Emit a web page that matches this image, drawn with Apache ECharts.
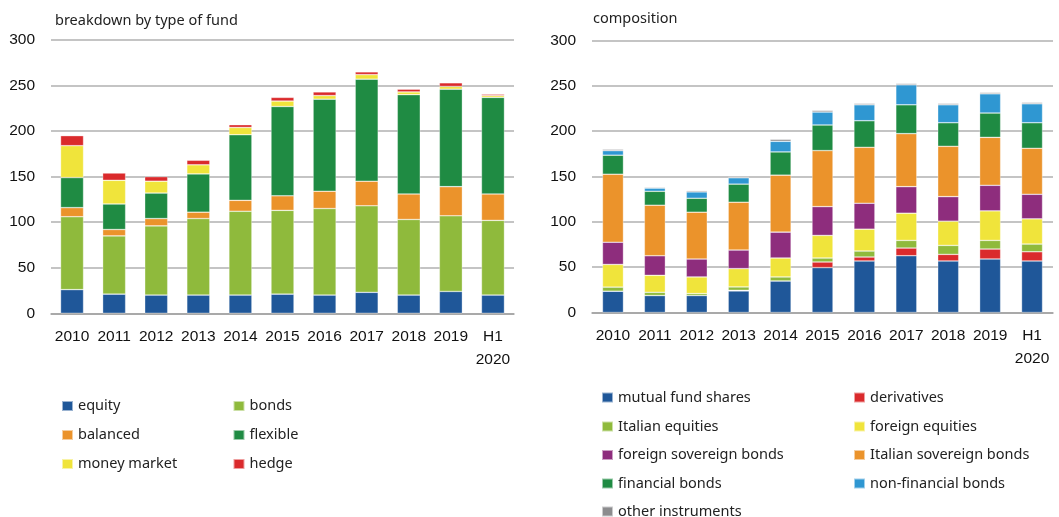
<!DOCTYPE html>
<html>
<head>
<meta charset="utf-8">
<script src="https://cdn.jsdelivr.net/npm/echarts@6/dist/echarts.min.js"></script>
<style>html,body{margin:0;padding:0;background:#fff}#c{width:1059px;height:517px}</style>
</head>
<body>
<div id="c"></div>
<script>
const categories = ['2010','2011','2012','2013','2014','2015','2016','2017','2018','2019','H1\n2020'];
const yTicks = [0, 50, 100, 150, 200, 250, 300];

// left panel: breakdown by type of fund
const equity      = [26, 21, 20, 20, 20, 21, 20, 23, 20, 24, 20];
const bonds       = [80, 64, 76, 84, 92, 92, 95, 95, 83, 83, 82];
const balanced    = [10, 7, 8, 7, 12, 16, 19, 27, 28, 32, 29];
const flexible    = [33, 28, 28, 42, 72, 98, 101, 112, 109, 107, 106];
const moneyMarket = [35, 26, 13, 10, 8, 6, 4, 5, 3, 3, 2];
const hedge       = [11, 8, 5, 5, 3, 4, 4, 3, 3, 4, 1.5];

// right panel: composition
const mutualFundShares   = [23.5, 18.7, 18.7, 23.8, 34.8, 49.5, 56.8, 62.6, 56.8, 59, 56.8];
const derivatives        = [0, 0, -0.8, 0.7, 0, 6.2, 4.4, 8.5, 7.3, 11, 10.2];
const italianEquities    = [4.5, 3.6, 2.2, 3.7, 4.4, 4.4, 6.6, 8.4, 9.9, 9.5, 8.5];
const foreignEquities    = [25, 18.7, 18.3, 20.2, 20.9, 24.9, 24.1, 30, 26.7, 32.6, 27.8];
const foreignSovereign   = [24.5, 21.6, 19.8, 20.5, 28.5, 31.8, 28.6, 29.3, 27.1, 28.2, 27.1];
const italianSovereign   = [75, 55.7, 51.6, 52.7, 62.9, 61.8, 61.7, 58.5, 55.5, 52.9, 50.7];
const financialBonds     = [21, 15.4, 15.4, 20, 25.6, 28.2, 29.3, 31.8, 26, 26.8, 28.2];
const nonFinancialBonds  = [5, 3.5, 7, 7, 11.7, 14.3, 17.6, 22, 19.8, 21.2, 20.9];
const otherInstruments   = [1.5, 1, 1.4, 1, 2.2, 1.8, 1.5, 1.5, 1.5, 1.5, 1.5];

const C = {
  blue:'#1f5799', lgreen:'#8fba3c', orange:'#eb932b', dgreen:'#1f8b43',
  yellow:'#f0e43b', red:'#da2a2c', purple:'#8e2d7d', lblue:'#2f97d2', gray:'#8c8c8e'
};

const leftSeries = [
  ['equity', equity, C.blue],
  ['bonds', bonds, C.lgreen],
  ['balanced', balanced, C.orange],
  ['flexible', flexible, C.dgreen],
  ['money market', moneyMarket, C.yellow],
  ['hedge', hedge, C.red]
];
const rightSeries = [
  ['mutual fund shares', mutualFundShares, C.blue],
  ['derivatives', derivatives, C.red],
  ['Italian equities', italianEquities, C.lgreen],
  ['foreign equities', foreignEquities, C.yellow],
  ['foreign sovereign bonds', foreignSovereign, C.purple],
  ['Italian sovereign bonds', italianSovereign, C.orange],
  ['financial bonds', financialBonds, C.dgreen],
  ['non-financial bonds', nonFinancialBonds, C.lblue],
  ['other instruments', otherInstruments, C.gray]
];

const font = 'Liberation Sans';
const tfont = 'Noto Sans';

function yAxis(i){
  return {
    type:'value', gridIndex:i, min:yTicks[0], max:yTicks[yTicks.length-1], interval:50,
    axisLine:{show:false}, axisTick:{show:false},
    axisLabel:{color:'#111', fontSize:15.5, fontFamily:font, margin:16},
    splitLine:{lineStyle:{color:'#b0b0b0', width:1.5}}
  };
}
function xAxis(i){
  return {
    type:'category', gridIndex:i, data:categories,
    axisLine:{show:true, lineStyle:{color:'#a0a0a0', width:1.5}}, axisTick:{show:false},
    axisLabel:{color:'#111', fontSize:15.5, fontFamily:font, margin:12, lineHeight:23, interval:0}
  };
}

const series = [];
leftSeries.forEach(([n,d,c]) => series.push({
  name:n, type:'bar', stack:'L', xAxisIndex:0, yAxisIndex:0, data:d, barWidth:23,
  itemStyle:{color:c, borderColor:'rgba(255,255,255,0.55)', borderWidth:0.6}
}));
rightSeries.forEach(([n,d,c]) => series.push({
  name:n, type:'bar', stack:'R', xAxisIndex:1, yAxisIndex:1, data:d, barWidth:21,
  itemStyle:{color:c, borderColor:'rgba(255,255,255,0.55)', borderWidth:0.6}
}));

const legends = [];
function addLegend(name, left, cy){
  legends.push({
    data:[name], left:left, top:cy-6, padding:0, itemWidth:11, itemHeight:10, itemGap:0,
    icon:'rect', selectedMode:false,
    textStyle:{color:'#222', fontSize:14.5, fontFamily:tfont, padding:[0,0,0,0]}
  });
}
const lRows = [404.5, 433.5, 462.5];
leftSeries.forEach(([n], i) => addLegend(n, i%2===0 ? 61 : 232.5, lRows[Math.floor(i/2)]));
const rRows = [396, 425, 453.5, 482, 510];
rightSeries.forEach(([n], i) => addLegend(n, i%2===0 ? 601 : 853, rRows[Math.floor(i/2)]));

const chart = echarts.init(document.getElementById('c'), null, {renderer:'canvas'});
chart.setOption({
  animation:false,
  title:[
    {text:'breakdown by type of fund', left:55, top:13, padding:0, textStyle:{fontSize:14.5, fontWeight:'normal', color:'#222', fontFamily:tfont}},
    {text:'composition', left:593, top:11, padding:0, textStyle:{fontSize:14.5, fontWeight:'normal', color:'#222', fontFamily:tfont}}
  ],
  legend: legends,
  grid:[
    {left:51, width:463, top:40, bottom:203.7, containLabel:false},
    {left:592, width:461, top:40.5, bottom:204.5, containLabel:false}
  ],
  xAxis:[xAxis(0), xAxis(1)],
  yAxis:[yAxis(0), yAxis(1)],
  series: series
});
</script>
</body>
</html>
